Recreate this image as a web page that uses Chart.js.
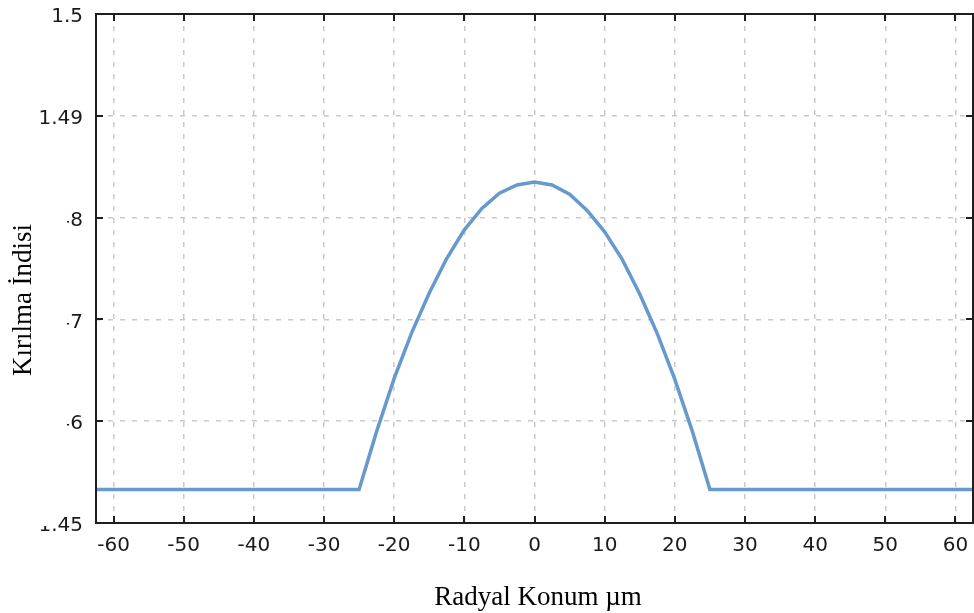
<!DOCTYPE html>
<html>
<head>
<meta charset="utf-8">
<title>Kırılma İndisi Profili</title>
<script src="https://cdn.jsdelivr.net/npm/chart.js@4.4.0/dist/chart.umd.min.js"></script>
<style>
	body { margin: 0; background: #fff; }
	#chart-wrap { width: 974px; height: 613px; }
</style>
</head>
<body>
<div id="chart-wrap"><canvas id="profile-chart" width="974" height="613"></canvas></div>
<script>
// radial position (µm) and refractive index
const radialPos = [-62.5, -25, -22.5, -20, -17.5, -15, -12.5, -10, -7.5, -5, -2.5, 0, 2.5, 5, 7.5, 10, 12.5, 15, 17.5, 20, 22.5, 25, 62.5]
const refIndex = [1.4533, 1.4533, 1.4590, 1.4642, 1.4687, 1.4726, 1.4760, 1.4788, 1.4809, 1.4824, 1.4832, 1.4835, 1.4832, 1.4823, 1.4807, 1.4786, 1.4759, 1.4725, 1.4686, 1.4641, 1.4590, 1.4533, 1.4533]

const xTicks = [-60, -50, -40, -30, -20, -10, 0, 10, 20, 30, 40, 50, 60]
const yTicks = [1.45, 1.46, 1.47, 1.48, 1.49, 1.5]

const xTitle = 'Radyal Konum µm'
const yTitle = 'Kırılma İndisi'

document.addEventListener("DOMContentLoaded", function () {

	//frame, inward ticks and axis titles
	const framePlugin = {
		id: 'frame',
		afterDraw(chart) {
			const { ctx, chartArea: a, scales } = chart
			ctx.save()
			ctx.strokeStyle = '#1e1e1e'
			ctx.lineWidth = 2
			ctx.strokeRect(a.left, a.top, a.right - a.left, a.bottom - a.top)

			ctx.beginPath()
			xTicks.forEach((v) => {
				const px = Math.round(scales.x.getPixelForValue(v))
				ctx.moveTo(px, a.bottom)
				ctx.lineTo(px, a.bottom - 7)
				ctx.moveTo(px, a.top)
				ctx.lineTo(px, a.top + 7)
			})
			yTicks.forEach((v) => {
				const py = Math.round(scales.y.getPixelForValue(v))
				ctx.moveTo(a.left, py)
				ctx.lineTo(a.left + 7, py)
				ctx.moveTo(a.right, py)
				ctx.lineTo(a.right - 7, py)
			})
			ctx.stroke()

			//white patch behind y title (hides the "1." of some labels, like the original)
			ctx.fillStyle = '#fff'
			ctx.fillRect(0, 130, 67, 386)
			ctx.fillRect(0, 516, 51, 10)

			ctx.fillStyle = '#000'
			ctx.font = '27px "Liberation Serif"'
			ctx.textAlign = 'center'
			ctx.textBaseline = 'alphabetic'
			ctx.fillText(xTitle, 538, 605)

			ctx.translate(24, 300)
			ctx.rotate(-Math.PI / 2)
			ctx.textBaseline = 'middle'
			ctx.fillText(yTitle, 0, 0)
			ctx.restore()
		}
	}

	const points = radialPos.map((r, i) => ({ x: r, y: refIndex[i] }))

	const tickFont = { family: 'DejaVu Sans', size: 20 }
	const chart_ctx = document.getElementById("profile-chart").getContext("2d")

	new Chart(chart_ctx, {
		type: 'line',
		data: {
			datasets: [{
				label: yTitle,
				data: points,
				borderColor: '#6699cc',
				borderWidth: 3.5,
				pointRadius: 0,
				tension: 0,
				fill: false
			}]
		},
		options: {
			responsive: false,
			animation: false,
			layout: { padding: { top: 14, right: 1, left: 0, bottom: 0 } },
			plugins: {
				legend: { display: false },
				tooltip: { enabled: false }
			},
			scales: {
				x: {
					type: 'linear',
					min: -62.5,
					max: 62.5,
					afterBuildTicks: (scale) => { scale.ticks = xTicks.map(v => ({ value: v })) },
					afterFit: (scale) => {
						scale.height = 90
						scale.paddingLeft = 0
						scale.paddingRight = 0
					},
					ticks: {
						font: tickFont,
						color: '#1a1a1a',
						padding: 11,
						maxRotation: 0,
						callback: (v) => String(v)
					},
					grid: { color: '#c9c9c9', lineWidth: 1.5, drawTicks: false },
					border: { display: false, dash: [5, 7] }
				},
				y: {
					type: 'linear',
					min: 1.45,
					max: 1.5,
					afterBuildTicks: (scale) => { scale.ticks = yTicks.map(v => ({ value: v })) },
					afterFit: (scale) => {
						scale.width = 96
						scale.paddingTop = 0
						scale.paddingBottom = 0
					},
					ticks: {
						font: tickFont,
						color: '#1a1a1a',
						padding: 13,
						labelOffset: 3,
						callback: (v) => String(v)
					},
					grid: { color: '#c9c9c9', lineWidth: 1.5, drawTicks: false },
					border: { display: false, dash: [5, 7] }
				}
			}
		},
		plugins: [framePlugin]
	})
})
</script>
</body>
</html>
